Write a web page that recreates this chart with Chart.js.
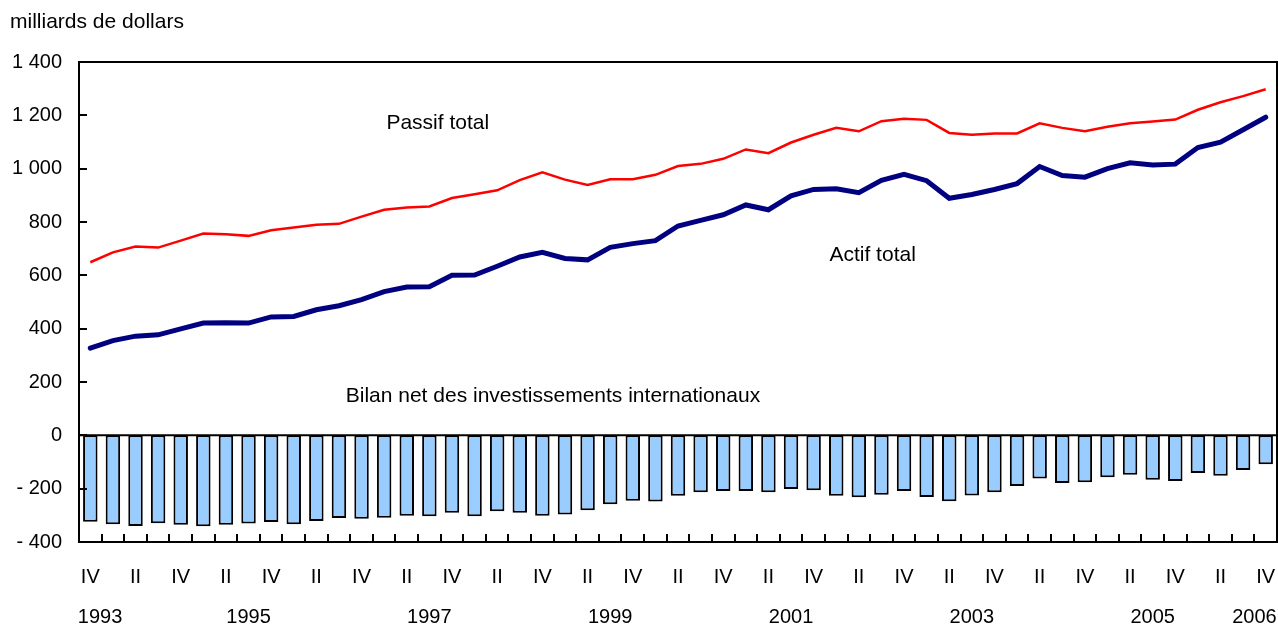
<!DOCTYPE html>
<html>
<head>
<meta charset="utf-8">
<script src="https://cdn.jsdelivr.net/npm/chart.js"></script>
<style>
  html, body { margin: 0; padding: 0; background: #fff; }
  #wrap { position: relative; width: 1278px; height: 625px; }
</style>
</head>
<body>
<div id="wrap"><canvas id="myChart" width="1278" height="625"></canvas></div>
<script>
// trimestres : IV 1993 -> IV 2006
const quarterLabels = ['IV',
  'I', 'II', 'III', 'IV', 'I', 'II', 'III', 'IV', 'I', 'II', 'III', 'IV',
  'I', 'II', 'III', 'IV', 'I', 'II', 'III', 'IV', 'I', 'II', 'III', 'IV',
  'I', 'II', 'III', 'IV', 'I', 'II', 'III', 'IV', 'I', 'II', 'III', 'IV',
  'I', 'II', 'III', 'IV', 'I', 'II', 'III', 'IV', 'I', 'II', 'III', 'IV',
  'I', 'II', 'III', 'IV'];

const yearLabels = ['1993', '1995', '1997', '1999', '2001', '2003', '2005', '2006'];
const yearAnchors = [0.43, 7, 15, 23, 31, 39, 47, 51.5]; // index de trimestre sous lequel centrer l'année

const passifTotal = [649, 686, 708, 704, 730, 757, 754, 748, 769, 779, 790, 793, 820, 846, 854, 858,
  890, 904, 919, 957, 986, 959, 939, 960, 960, 977, 1010, 1018, 1037, 1072, 1058, 1098, 1127, 1153,
  1140, 1178, 1187, 1183, 1134, 1127, 1132, 1132, 1170, 1153, 1140, 1157, 1170, 1177, 1184, 1221,
  1249, 1272, 1298];

const actifTotal = [327, 355, 372, 377, 399, 421, 422, 421, 444, 446, 471, 486, 509, 539, 556, 557,
  600, 601, 634, 669, 686, 663, 658, 705, 719, 730, 785, 806, 827, 864, 846, 898, 922, 925,
  910, 956, 979, 955, 889, 903, 922, 944, 1008, 974, 968, 1000, 1022, 1014, 1017, 1079,
  1099, 1146, 1193];

const bilanNet = [-324, -333, -340, -330, -335, -341, -335, -331, -325, -333, -321, -310, -313, -309,
  -302, -303, -290, -303, -285, -290, -302, -297, -281, -258, -245, -248, -227, -213, -209, -209,
  -213, -201, -206, -227, -232, -223, -209, -231, -247, -226, -213, -190, -162, -179, -176, -157,
  -148, -167, -171, -141, -152, -130, -108];

const yTicks = [-400, -200, 0, 200, 400, 600, 800, 1000, 1200, 1400];

// textes posés dans le graphique : [texte, index x, valeur y]
const notes = [
  ['Passif total', 13.1, 1169],
  ['Actif total', 32.7, 674],
  ['Bilan net des investissements internationaux', 11.3, 148]
];

const FONT = "'Liberation Sans', Arial, Helvetica, sans-serif";

function formatNombre(v) {
  const a = Math.abs(v);
  let s = a >= 1000 ? Math.floor(a / 1000) + ' ' + String(a % 1000).padStart(3, '0') : String(a);
  return v < 0 ? '- ' + s : s;
}

// cadre, ligne du zéro, petites graduations vers l'intérieur, années et textes
const decorPlugin = {
  id: 'decor',
  afterDraw(chart) {
    const { ctx, chartArea: a, scales: { x, y } } = chart;
    ctx.save();
    ctx.strokeStyle = '#000';
    ctx.lineWidth = 2;
    ctx.strokeRect(a.left, a.top, a.right - a.left, a.bottom - a.top);

    const y0 = y.getPixelForValue(0);
    ctx.beginPath();
    ctx.moveTo(a.left, y0);
    ctx.lineTo(a.right, y0);
    ctx.stroke();

    ctx.beginPath();
    yTicks.forEach(v => {
      const py = Math.round(y.getPixelForValue(v));
      ctx.moveTo(a.left, py);
      ctx.lineTo(a.left + 8, py);
    });
    for (let i = 1; i < quarterLabels.length; i++) {
      const px = Math.round(x.getPixelForValue(i - 0.5));
      ctx.moveTo(px, a.bottom);
      ctx.lineTo(px, a.bottom - 8);
    }
    ctx.stroke();

    ctx.fillStyle = '#000';
    ctx.font = '20px ' + FONT;
    ctx.textBaseline = 'middle';
    ctx.textAlign = 'center';
    yearLabels.forEach((lab, i) => {
      ctx.fillText(lab, x.getPixelForValue(yearAnchors[i]), 617);
    });

    ctx.font = '21px ' + FONT;
    ctx.textAlign = 'left';
    notes.forEach(n => {
      ctx.fillText(n[0], x.getPixelForValue(n[1]), y.getPixelForValue(n[2]));
    });
    ctx.fillText('milliards de dollars', 10, 22);
    ctx.restore();
  }
};

Chart.defaults.font.family = FONT;
Chart.defaults.font.size = 20;
Chart.defaults.color = '#000';

const ctx = document.getElementById('myChart').getContext('2d');
new Chart(ctx, {
  type: 'bar',
  data: {
    labels: quarterLabels,
    datasets: [
      {
        type: 'line',
        label: 'Passif total',
        data: passifTotal,
        borderColor: '#ff0000',
        borderWidth: 2.5,
        pointRadius: 0,
        tension: 0,
        order: 1
      },
      {
        type: 'line',
        label: 'Actif total',
        data: actifTotal,
        borderColor: '#000080',
        borderWidth: 5,
        pointRadius: 0,
        tension: 0,
        borderCapStyle: 'round',
        order: 2
      },
      {
        type: 'bar',
        label: 'Bilan net des investissements internationaux',
        data: bilanNet,
        backgroundColor: '#99ccff',
        borderColor: '#000',
        borderWidth: 2,
        borderSkipped: false,
        categoryPercentage: 1,
        barPercentage: 0.64,
        order: 3
      }
    ]
  },
  options: {
    responsive: false,
    animation: false,
    layout: { padding: { top: 62, right: 1, left: 0, bottom: 0 } },
    plugins: {
      legend: { display: false },
      tooltip: { enabled: false }
    },
    scales: {
      x: {
        grid: { display: false, drawTicks: false },
        border: { display: false },
        ticks: {
          autoSkip: false,
          maxRotation: 0,
          padding: 23,
          callback: (v, i) => (i % 2 === 0 ? quarterLabels[i] : '')
        },
        afterFit: s => { s.height = 83; s.paddingLeft = 0; s.paddingRight = 0; }
      },
      y: {
        min: -400,
        max: 1400,
        grid: { display: false, drawTicks: false },
        border: { display: false },
        ticks: {
          stepSize: 200,
          padding: 17,
          callback: v => formatNombre(v)
        },
        afterFit: s => { s.width = 79; s.paddingTop = 0; s.paddingBottom = 0; }
      }
    }
  },
  plugins: [decorPlugin]
});
</script>
</body>
</html>
